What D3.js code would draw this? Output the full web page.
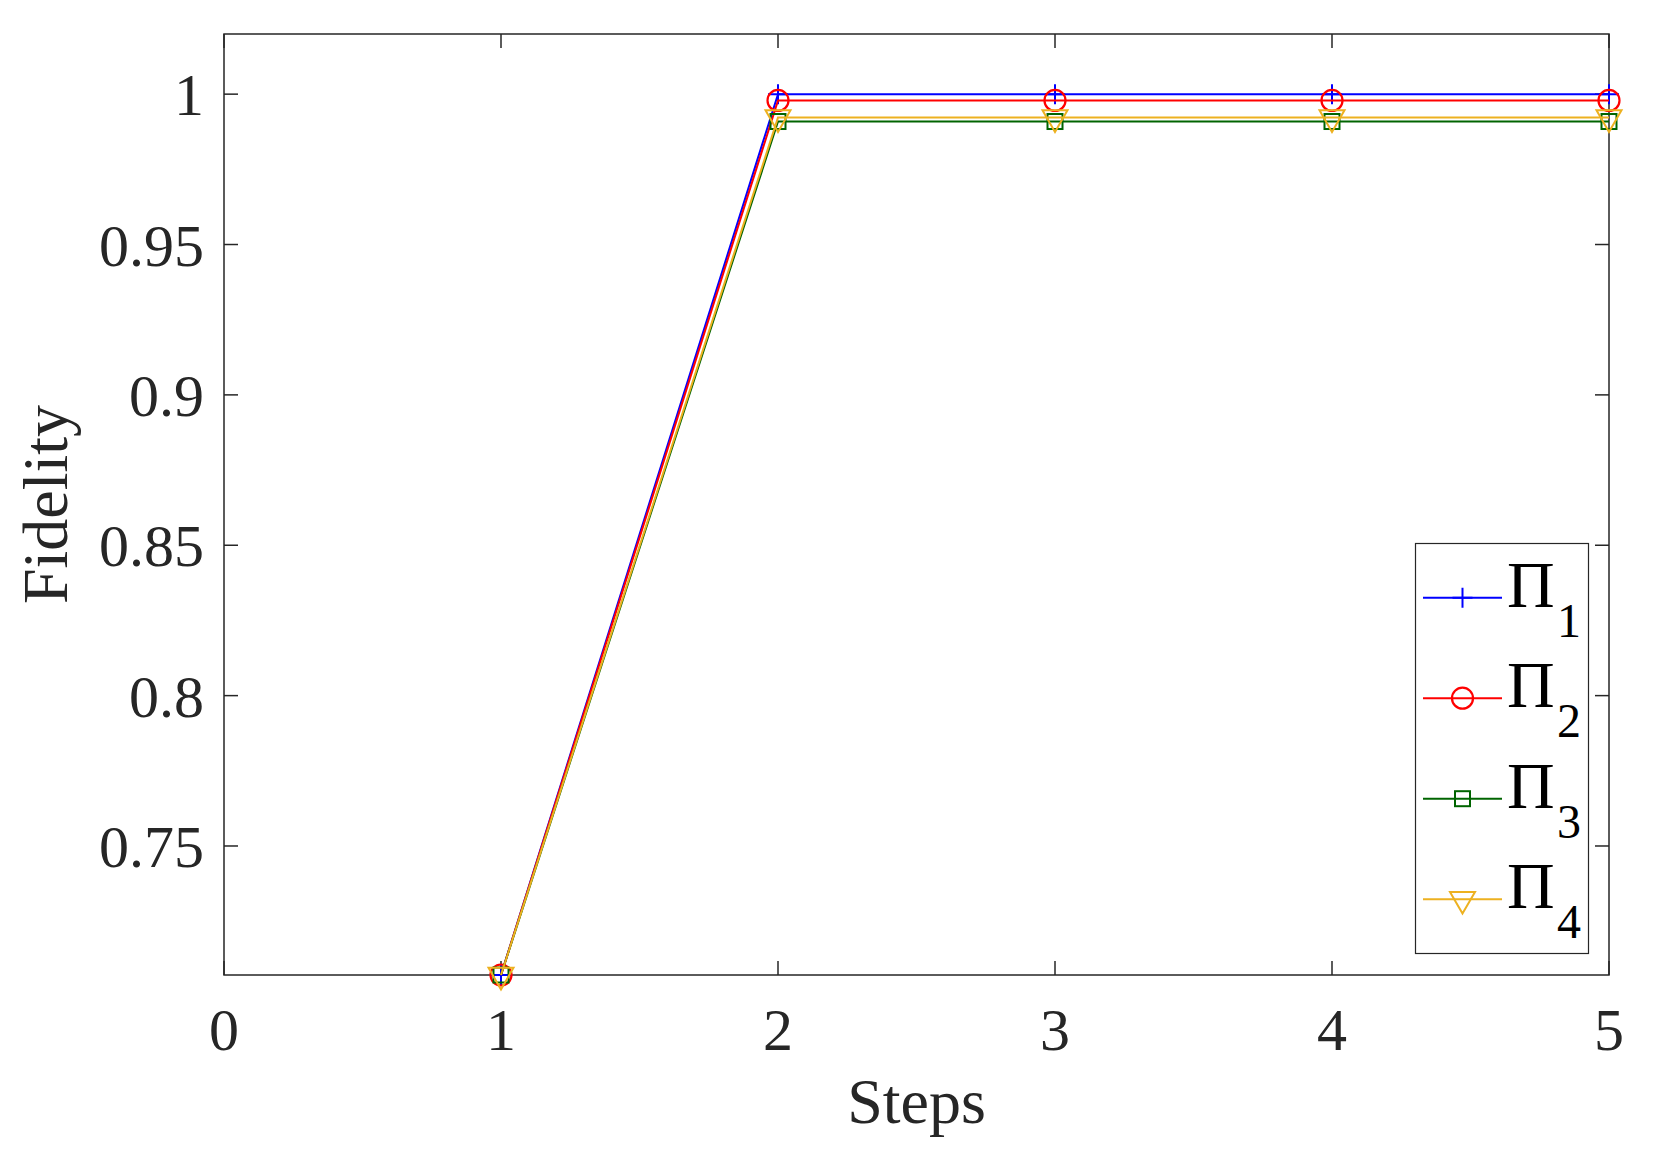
<!DOCTYPE html>
<html>
<head>
<meta charset="utf-8">
<script src="https://cdn.jsdelivr.net/npm/d3@7"></script>
<style>
  body { margin: 0; background: #fff; }
  text { font-family: "Liberation Serif", "Times New Roman", serif; fill: #262626; }
</style>
</head>
<body>
<script>
// data
const steps = [1, 2, 3, 4, 5]
const pi1 = [0.7071, 1.0000, 1.0000, 1.0000, 1.0000]
const pi2 = [0.7071, 0.9979, 0.9979, 0.9979, 0.9979]
const pi3 = [0.7071, 0.9909, 0.9909, 0.9909, 0.9909]
const pi4 = [0.7071, 0.9922, 0.9922, 0.9922, 0.9922]
const seriesNames = ["1", "2", "3", "4"]
const xTicks = [0, 1, 2, 3, 4, 5]
const yTicks = [0.75, 0.8, 0.85, 0.9, 0.95, 1]

const series = [
    { sub: seriesNames[0], vals: pi1, color: "#0000ff", marker: "plus" },
    { sub: seriesNames[1], vals: pi2, color: "#ff0000", marker: "circle" },
    { sub: seriesNames[2], vals: pi3, color: "#006400", marker: "square" },
    { sub: seriesNames[3], vals: pi4, color: "#EDB120", marker: "tri" }
]

const width = 1653, height = 1158
const mLeft = 224, mRight = 1609, mTop = 34, mBottom = 975

const svg = d3.select("body").append("svg")
    .attr("width", width).attr("height", height)

const x = d3.scaleLinear().domain([0, 5]).range([mLeft, mRight])
const y = d3.scaleLinear().domain([0.7071, 1.02]).range([mBottom, mTop])

const axisColor = "#262626"
const tickLen = 14

// box
svg.append("rect")
    .attr("x", mLeft).attr("y", mTop)
    .attr("width", mRight - mLeft).attr("height", mBottom - mTop)
    .attr("fill", "none").attr("stroke", axisColor).attr("stroke-width", 1.5)

// x ticks (bottom + top, inward)
const xAxis = svg.append("g")
xTicks.forEach(t => {
    xAxis.append("line").attr("x1", x(t)).attr("x2", x(t))
        .attr("y1", mBottom).attr("y2", mBottom - tickLen)
        .attr("stroke", axisColor).attr("stroke-width", 1.5)
    xAxis.append("line").attr("x1", x(t)).attr("x2", x(t))
        .attr("y1", mTop).attr("y2", mTop + tickLen)
        .attr("stroke", axisColor).attr("stroke-width", 1.5)
    xAxis.append("text").attr("x", x(t)).attr("y", 1050)
        .attr("text-anchor", "middle").attr("font-size", 60)
        .text(t)
})

// y ticks (left + right, inward)
const yAxis = svg.append("g")
yTicks.forEach(t => {
    yAxis.append("line").attr("x1", mLeft).attr("x2", mLeft + tickLen)
        .attr("y1", y(t)).attr("y2", y(t))
        .attr("stroke", axisColor).attr("stroke-width", 1.5)
    yAxis.append("line").attr("x1", mRight).attr("x2", mRight - tickLen)
        .attr("y1", y(t)).attr("y2", y(t))
        .attr("stroke", axisColor).attr("stroke-width", 1.5)
    yAxis.append("text").attr("x", 204).attr("y", y(t) + 21)
        .attr("text-anchor", "end").attr("font-size", 60)
        .text(d3.format("~g")(t))
})

// axis labels
svg.append("text").attr("x", (mLeft + mRight) / 2).attr("y", 1123)
    .attr("text-anchor", "middle").attr("font-size", 64).text("Steps")
svg.append("text")
    .attr("transform", `translate(67, ${(mTop + mBottom) / 2}) rotate(-90)`)
    .attr("text-anchor", "middle").attr("font-size", 64).text("Fidelity")

function drawMarker(g, type, cx, cy, color) {
    if (type === "plus") {
        g.append("path").attr("d", `M${cx - 10},${cy}H${cx + 10}M${cx},${cy - 10}V${cy + 10}`)
            .attr("stroke", color).attr("stroke-width", 2).attr("fill", "none")
    } else if (type === "circle") {
        g.append("circle").attr("cx", cx).attr("cy", cy).attr("r", 10.5)
            .attr("stroke", color).attr("stroke-width", 2.2).attr("fill", "none")
    } else if (type === "square") {
        g.append("rect").attr("x", cx - 7.5).attr("y", cy - 7.5).attr("width", 15).attr("height", 15)
            .attr("stroke", color).attr("stroke-width", 2).attr("fill", "none")
    } else if (type === "tri") {
        g.append("path").attr("d", `M${cx - 12.5},${cy - 7.3}L${cx + 12.5},${cy - 7.3}L${cx},${cy + 14.4}Z`)
            .attr("stroke", color).attr("stroke-width", 2).attr("fill", "none")
    }
}

const line = d3.line().x((d, i) => x(steps[i])).y(d => y(d))

const plot = svg.append("g")
series.forEach(s => {
    plot.append("path").datum(s.vals)
        .attr("d", line)
        .attr("fill", "none").attr("stroke", s.color).attr("stroke-width", 2)
    s.vals.forEach((v, i) => drawMarker(plot, s.marker, x(steps[i]), y(v), s.color))
})

// legend
const legend = svg.append("g")
legend.append("rect").attr("x", 1415.5).attr("y", 543.5)
    .attr("width", 173).attr("height", 410)
    .attr("fill", "#fff").attr("stroke", axisColor).attr("stroke-width", 1.2)
series.forEach((s, i) => {
    const ry = 597.7 + i * 100.5
    legend.append("line").attr("x1", 1423).attr("x2", 1502)
        .attr("y1", ry).attr("y2", ry)
        .attr("stroke", s.color).attr("stroke-width", 2)
    drawMarker(legend, s.marker, 1462.5, ry, s.color)
    const t = legend.append("text").attr("x", 1507).attr("y", ry + 9)
        .attr("font-size", 66).style("fill", "#000")
    t.append("tspan").text("Π")
    t.append("tspan").attr("x", 1557).attr("y", ry + 39).attr("font-size", 48).text(s.sub)
})
</script>
</body>
</html>
